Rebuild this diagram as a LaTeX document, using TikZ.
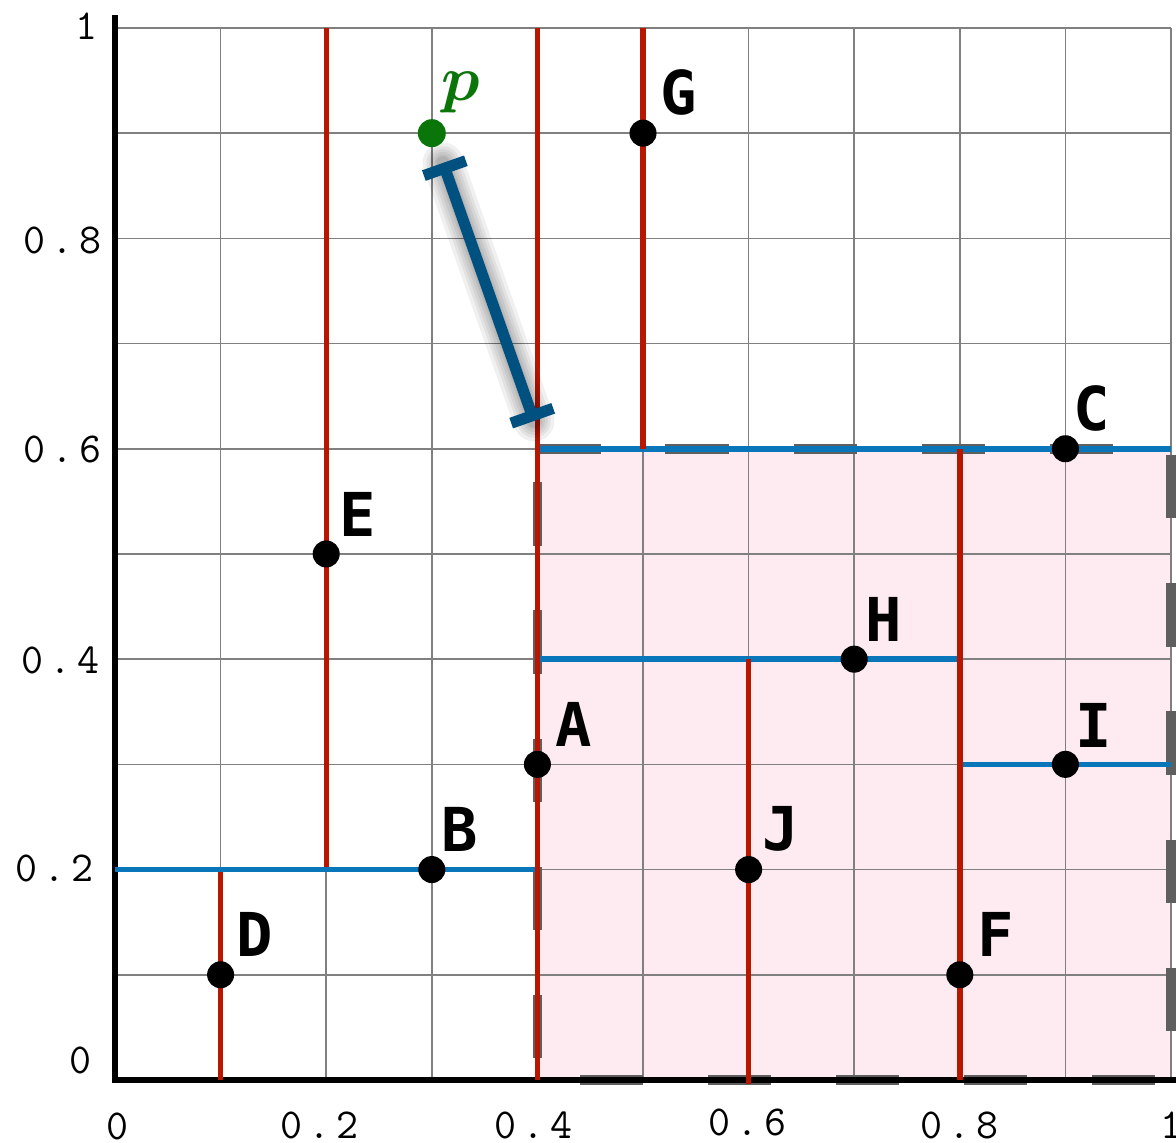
\documentclass[tikz,border=0pt]{standalone}
\usepackage{amsmath}
\usepackage{fontspec}
\newfontfamily\lblfont{DejaVu Sans Mono}
\usetikzlibrary{arrows.meta}
\definecolor{kdred}{RGB}{185,22,0}
\definecolor{kdblue}{RGB}{10,118,186}
\definecolor{distblue}{RGB}{0,80,128}
\definecolor{pgreen}{RGB}{10,118,10}
\definecolor{rectpink}{RGB}{254,235,241}
\definecolor{dashgray}{RGB}{95,95,95}
\definecolor{gridgray}{RGB}{128,128,128}
\newcommand\tnum[2]{#1\kern1.6pt.\kern1.6pt#2}
\begin{document}
\begin{tikzpicture}[x=10cm,y=9.962cm,
  gridline/.style={draw=gridgray, line width=0.45pt},
  redsplit/.style={draw=kdred, line width=1.45pt},
  bluesplit/.style={draw=kdblue, line width=1.5pt},
  regionborder/.style={draw=dashgray, line width=2.6pt, dash pattern=on 17pt off 17.5pt},
  axisline/.style={draw=black, line width=1.5pt, line join=miter},
  pt/.style={circle, fill=black, inner sep=0pt, minimum size=0.256cm},
  qpt/.style={circle, fill=pgreen, inner sep=0pt, minimum size=0.265cm},
  lbl/.style={font=\lblfont\bfseries\fontsize{16.3}{18}\selectfont, inner sep=0pt},
  ticklbl/.style={font=\ttfamily\addfontfeatures{FakeBold=0.7}\fontsize{11.5}{13}\selectfont, inner sep=0pt},
  distline/.style={draw=distblue, line width=3pt, {Bar[width=12pt]}-{Bar[width=12pt]}},
  distshadow/.style={draw=black, line width=#1, opacity=0.06, line cap=round}
]
\useasboundingbox (-0.1089,-0.0599) rectangle (1.0047,1.0266);

% query region
\fill[rectpink] (0.4,0) rectangle (1,0.6);

% grid
\foreach \i in {0,...,10} {
  \draw[gridline] (\i/10,0) -- (\i/10,1);
  \draw[gridline] (0,\i/10) -- (1,\i/10);
}

% dashed border of region
\draw[regionborder] (0.4,0.6) -- (1,0.6) -- (1,0) -- (0.4,0) -- cycle;

% axes
\draw[axisline] (0,1.012) -- (0,0) -- (1.02,0);

% horizontal splits (blue)
\draw[bluesplit] (0,0.2) -- (0.4,0.2);
\draw[bluesplit] (0.4,0.6) -- (1,0.6);
\draw[bluesplit] (0.4,0.4) -- (0.8,0.4);
\draw[bluesplit] (0.8,0.3) -- (1,0.3);

% vertical splits (red)
\draw[redsplit] (0.4,0) -- (0.4,1);
\draw[redsplit] (0.2,0.2025) -- (0.2,1);
\draw[redsplit] (0.1,0) -- (0.1,0.1975);
\draw[redsplit] (0.5,0.6) -- (0.5,1);
\draw[redsplit] (0.8,0) -- (0.8,0.6);
\draw[redsplit] (0.6,-0.004) -- (0.6,0.4);

% distance from p to region
\coordinate (d1) at (0.3106,0.8717);
\coordinate (d2) at (0.3968,0.6264);
\begin{scope}[shift={(0.005,-0.006)}]
  \foreach \w in {11pt,9pt,7.5pt,6pt,4.5pt,3.5pt} {
    \draw[distshadow=\w] (d1) -- (d2);
  }
\end{scope}
\draw[distline] (d1) -- (d2);

% points
\node[pt] (A) at (0.4,0.3) {};
\node[pt] (B) at (0.3,0.2) {};
\node[pt] (C) at (0.9,0.6) {};
\node[pt] (D) at (0.1,0.1) {};
\node[pt] (E) at (0.2,0.5) {};
\node[pt] (F) at (0.8,0.1) {};
\node[pt] (G) at (0.5,0.9) {};
\node[pt] (H) at (0.7,0.4) {};
\node[pt] (I) at (0.9,0.3) {};
\node[pt] (J) at (0.6,0.2) {};
\node[qpt] (p) at (0.3,0.9) {};

% point labels
\node[lbl] (Al) at (0.434,0.338) {A};
\node[lbl] (Bl) at (0.326,0.238) {B};
\node[lbl] (Cl) at (0.925,0.638) {C};
\node[lbl] (Dl) at (0.132,0.138) {D};
\node[lbl] (El) at (0.230,0.538) {E};
\node[lbl] (Fl) at (0.834,0.138) {F};
\node[lbl] (Gl) at (0.534,0.939) {G};
\node[lbl] (Hl) at (0.728,0.438) {H};
\node[lbl] (Il) at (0.927,0.337) {I};
\node[lbl] (Jl) at (0.630,0.239) {J};
\node[text=pgreen, inner sep=0pt, font=\fontsize{17}{19}\selectfont] (pl) at (0.327,0.939) {$\boldsymbol{p}$};

% y tick labels
\node[ticklbl] (y1) at (-0.027,1.002) {1};
\node[ticklbl] (y08) at (-0.050,0.798) {\tnum{0}{8}};
\node[ticklbl] (y06) at (-0.050,0.599) {\tnum{0}{6}};
\node[ticklbl] (y04) at (-0.052,0.399) {\tnum{0}{4}};
\node[ticklbl] (y02) at (-0.057,0.201) {\tnum{0}{2}};
\node[ticklbl] (y0) at (-0.033,0.019) {0};

% x tick labels
\node[ticklbl] (x0) at (0.002,-0.044) {0};
\node[ticklbl] (x02) at (0.194,-0.043) {\tnum{0}{2}};
\node[ticklbl] (x04) at (0.396,-0.043) {\tnum{0}{4}};
\node[ticklbl] (x06) at (0.599,-0.040) {\tnum{0}{6}};
\node[ticklbl] (x08) at (0.800,-0.043) {\tnum{0}{8}};
\node[ticklbl] (x1) at (1.000,-0.043) {1};
\end{tikzpicture}
\end{document}
